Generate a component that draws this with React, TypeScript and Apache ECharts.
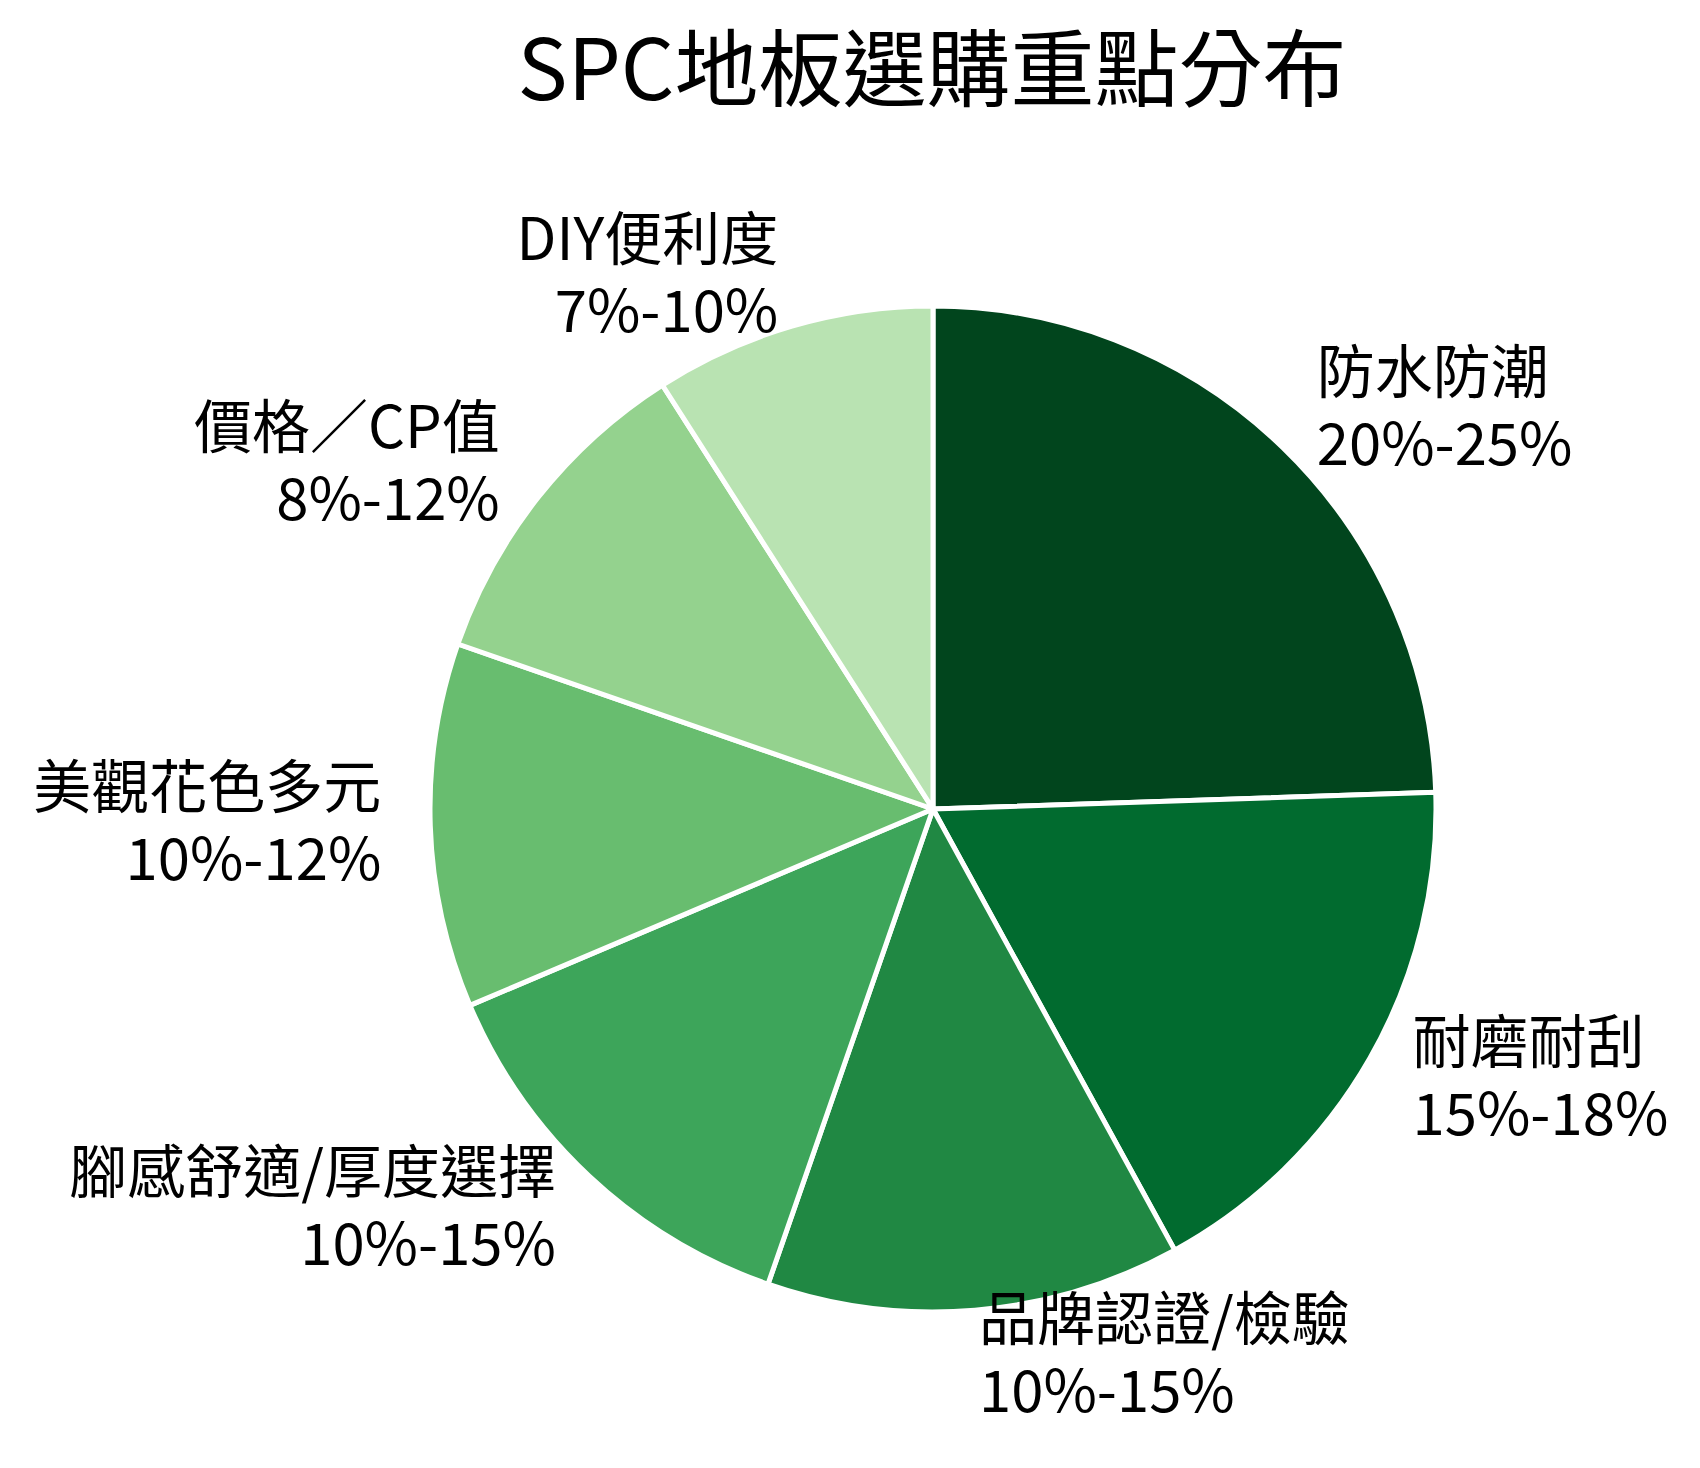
import { useEffect, useRef } from "react";
import * as echarts from "echarts";

const TITLE = "SPC地板選購重點分布";
const NAMES = ["防水防潮", "耐磨耐刮", "品牌認證/檢驗", "腳感舒適/厚度選擇", "美觀花色多元", "價格／CP值", "DIY便利度"];
const RANGES = ["20%-25%", "15%-18%", "10%-15%", "10%-15%", "10%-12%", "8%-12%", "7%-10%"];
// slice sizes
const VALUES = [23, 16.5, 12.5, 12.5, 11, 10, 8.5];
const COLORS = ["#01451d", "#016b2f", "#208843", "#3da55a", "#68bd6f", "#94d28e", "#b9e3b2"];

const FONT = '"Noto Sans CJK TC", "Noto Sans", sans-serif';

export default function App() {
    const chartRef = useRef<HTMLDivElement>(null);

    useEffect(() => {
        if (!chartRef.current) return;
        const chart = echarts.init(chartRef.current, undefined, { renderer: "svg" });

        chart.setOption({
            animation: false,
            backgroundColor: "#ffffff",
            title: {
                text: TITLE,
                left: 927,
                top: 16,
                textAlign: "center",
                textStyle: { fontFamily: FONT, fontSize: 84, fontWeight: "normal", color: "#000", lineHeight: 84 },
            },
            color: COLORS,
            series: [
                {
                    type: "pie",
                    center: [933, 809],
                    radius: 503,
                    startAngle: 90,
                    clockwise: true,
                    avoidLabelOverlap: false,
                    itemStyle: { borderColor: "#ffffff", borderWidth: 5 },
                    label: {
                        show: true,
                        position: "outside",
                        distanceToLabelLine: 0,
                        fontFamily: FONT,
                        fontSize: 58,
                        lineHeight: 72,
                        color: "#000",
                        formatter: (p: any) => `${p.name}\n${RANGES[p.dataIndex]}`,
                    },
                    labelLine: { show: false, length: 49, length2: 0 },
                    labelLayout: { dy: -8 },
                    emphasis: { disabled: true },
                    data: NAMES.map((n, i) => ({ name: n, value: VALUES[i] })),
                },
            ],
        });

        return () => {
            chart.dispose();
        };
    }, []);

    return (
        <div
            ref={chartRef}
            style={{ position: "fixed", left: 0, top: 0, width: 1700, height: 1468, background: "#fff" }}
        />
    );
}
